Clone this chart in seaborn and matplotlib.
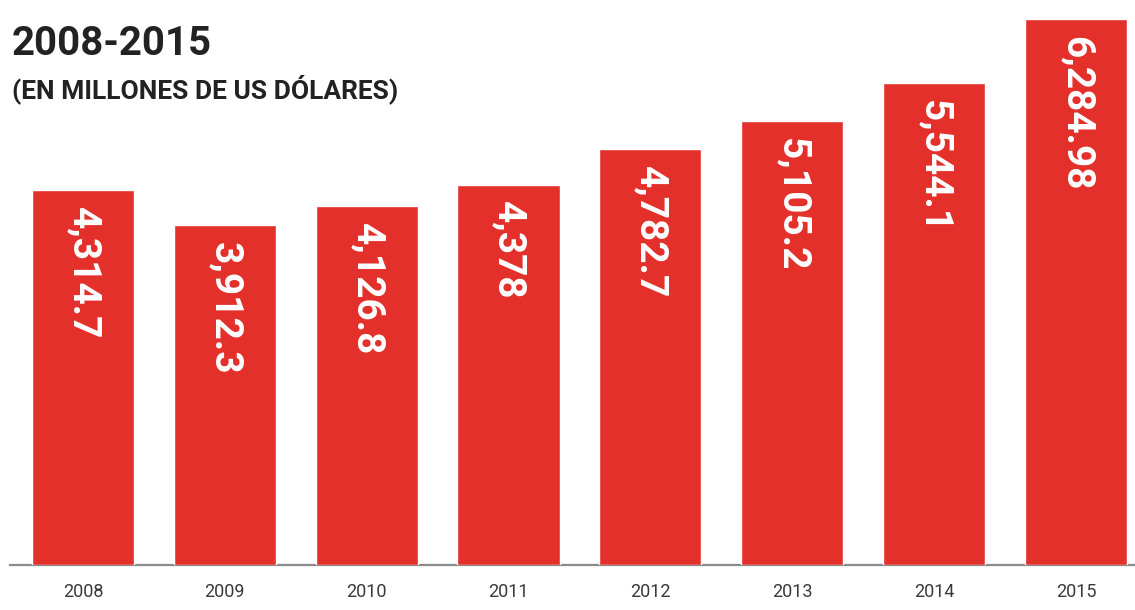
import matplotlib
matplotlib.use("Agg")
import matplotlib.pyplot as plt
import seaborn as sns
import pandas as pd

# data
years = ["2008", "2009", "2010", "2011", "2012", "2013", "2014", "2015"]
values = [4314.7, 3912.3, 4126.8, 4378, 4782.7, 5105.2, 5544.1, 6284.98]
value_labels = ["4,314.7", "3,912.3", "4,126.8", "4,378", "4,782.7", "5,105.2", "5,544.1", "6,284.98"]

title = "2008-2015"
subtitle = "(EN MILLONES DE US DÓLARES)"

bar_color = "#e3302b"

sns.set_theme(style="white")
plt.rcParams['font.family'] = ['Roboto', 'DejaVu Sans']

df = pd.DataFrame({"year": years, "value": values})

fig = plt.figure(figsize=(11.35, 6.10), dpi=100)
ax = fig.add_axes([10 / 1135, 45 / 610, 1 - 10 / 1135, 565 / 610])

sns.barplot(data=df, x="year", y="value", color=bar_color, saturation=1,
            width=0.72, ax=ax, zorder=3)

# value labels inside the bars, rotated
for i, (v, lab) in enumerate(zip(values, value_labels)):
    ax.annotate(lab, xy=(i, v), xytext=(0, -12), textcoords="offset points",
                rotation=-90, ha="center", va="top", color="white",
                fontsize=28, fontweight="bold")

ax.set_xlim(-0.514, 7.416)
ax.set_ylim(0, 6502)
ax.set_xlabel("")
ax.set_ylabel("")
ax.set_yticks([])
for s in ["top", "right", "left"]:
    ax.spines[s].set_visible(False)
ax.spines["bottom"].set_color("#8a8a8a")
ax.spines["bottom"].set_linewidth(1.6)
ax.spines["bottom"].set_zorder(2)
ax.tick_params(axis="x", length=0, pad=13, labelsize=13, labelcolor="#3a3a3a")

fig.text(12 / 1135, 1 - 55 / 610, title, fontsize=29, fontweight="bold",
         color="#222222", ha="left", va="baseline")
fig.text(12 / 1135, 1 - 98 / 610, subtitle, fontsize=19, fontweight="bold",
         color="#222222", ha="left", va="baseline")

fig.savefig("out.png", dpi=100, facecolor="white")
